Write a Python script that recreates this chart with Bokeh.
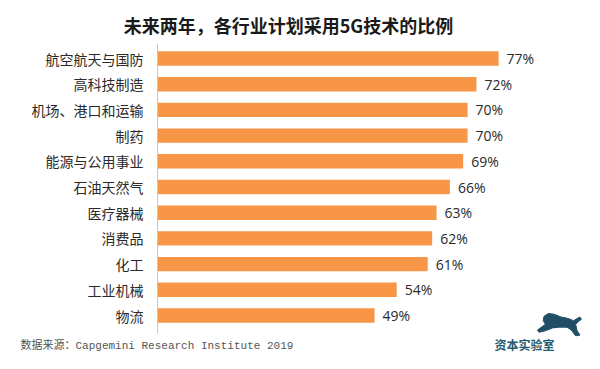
from bokeh.plotting import figure
from bokeh.models import Range1d, ColumnDataSource, Label
from bokeh.core.properties import value
from bokeh.embed import file_html
from bokeh.resources import INLINE

categories = ["航空航天与国防", "高科技制造", "机场、港口和运输", "制药", "能源与公用事业",
              "石油天然气", "医疗器械", "消费品", "化工", "工业机械", "物流"]
values = [77, 72, 70, 70, 69, 66, 63, 62, 61, 54, 49]
value_labels = [f"{v}%" for v in values]
title_text = "未来两年，各行业计划采用5G技术的比例"
source_text = "数据来源：Capgemini Research Institute 2019"
logo_text = "资本实验室"

W, H = 584, 353
x0_px, px_per_unit = 157.0, 4.43
row0_px, row_step = 58.0, 25.7

x_range = Range1d(-x0_px / px_per_unit, (W - x0_px) / px_per_unit)
y_range = Range1d((H - row0_px) / row_step, -row0_px / row_step)

p = figure(width=W, height=H, x_range=x_range, y_range=y_range,
           output_backend="svg", toolbar_location=None,
           min_border=0, min_border_left=0, min_border_right=0,
           min_border_top=0, min_border_bottom=0)
p.axis.visible = False
p.grid.visible = False
p.outline_line_color = None
p.background_fill_color = "white"
p.border_fill_color = "white"

rows = list(range(len(categories)))
src = ColumnDataSource(dict(y=rows, v=values, cat=categories, lab=value_labels,
                            zero=[0] * len(rows)))

p.hbar(y="y", left=0, right="v", height=0.56, source=src,
       fill_color="#F79646", line_color=None)

# axis line
n = len(categories)
p.segment(x0=[0], x1=[0], y0=[-0.58], y1=[n - 1 + 0.7],
          line_color="#C8C8C8", line_width=1)

p.text(x="zero", y="y", text="cat", source=src, x_offset=-14,
       text_align="right", text_baseline="middle",
       text_font=value("Noto Sans CJK SC"), text_font_size="14px",
       text_color="#2a2a2a")

p.text(x="v", y="y", text="lab", source=src, x_offset=8,
       text_align="left", text_baseline="middle",
       text_font=value("Open Sans"), text_font_size="14px",
       text_color="#2a2a2a")

p.add_layout(Label(x=288, y=H - 24, x_units="screen", y_units="screen",
                   text=title_text, text_align="center", text_baseline="middle",
                   text_font="Noto Sans CJK SC", text_font_size="18px",
                   text_font_style="bold", text_color="#1a1a1a"))

p.add_layout(Label(x=20, y=H - 345, x_units="screen", y_units="screen",
                   text=source_text, text_align="left", text_baseline="middle",
                   text_font="'Liberation Mono', 'Noto Sans CJK SC'", text_font_size="11px",
                   text_color="#555555"))

p.add_layout(Label(x=524, y=H - 344, x_units="screen", y_units="screen",
                   text=logo_text, text_align="center", text_baseline="middle",
                   text_font="Noto Sans CJK SC", text_font_size="12px",
                   text_font_style="bold", text_color="#1F5A70"))

# rough leaping-leopard logo silhouette (decoration, pixel outline mapped to data space)
leopard_px = [(533, 349), (544, 341), (541, 336), (542, 330), (548, 326), (556, 327),
              (566, 331), (576, 333), (583, 336), (588, 333), (592, 331), (594, 334),
              (590, 337), (586, 341), (588, 350), (592, 356), (586, 357), (580, 349),
              (574, 345), (563, 345), (554, 346), (544, 350), (535, 352)]
scale, ox, oy = 0.72, 537, 313
lx = [((ox + (px - 533) * scale) - x0_px) / px_per_unit for px, _ in leopard_px]
ly = [((oy + (py - 326) * scale) - row0_px) / row_step for _, py in leopard_px]
p.patch(lx, ly, fill_color="#1F4E66", line_color="#1F4E66", line_width=1)

open("out.html", "w").write(file_html(p, INLINE))
